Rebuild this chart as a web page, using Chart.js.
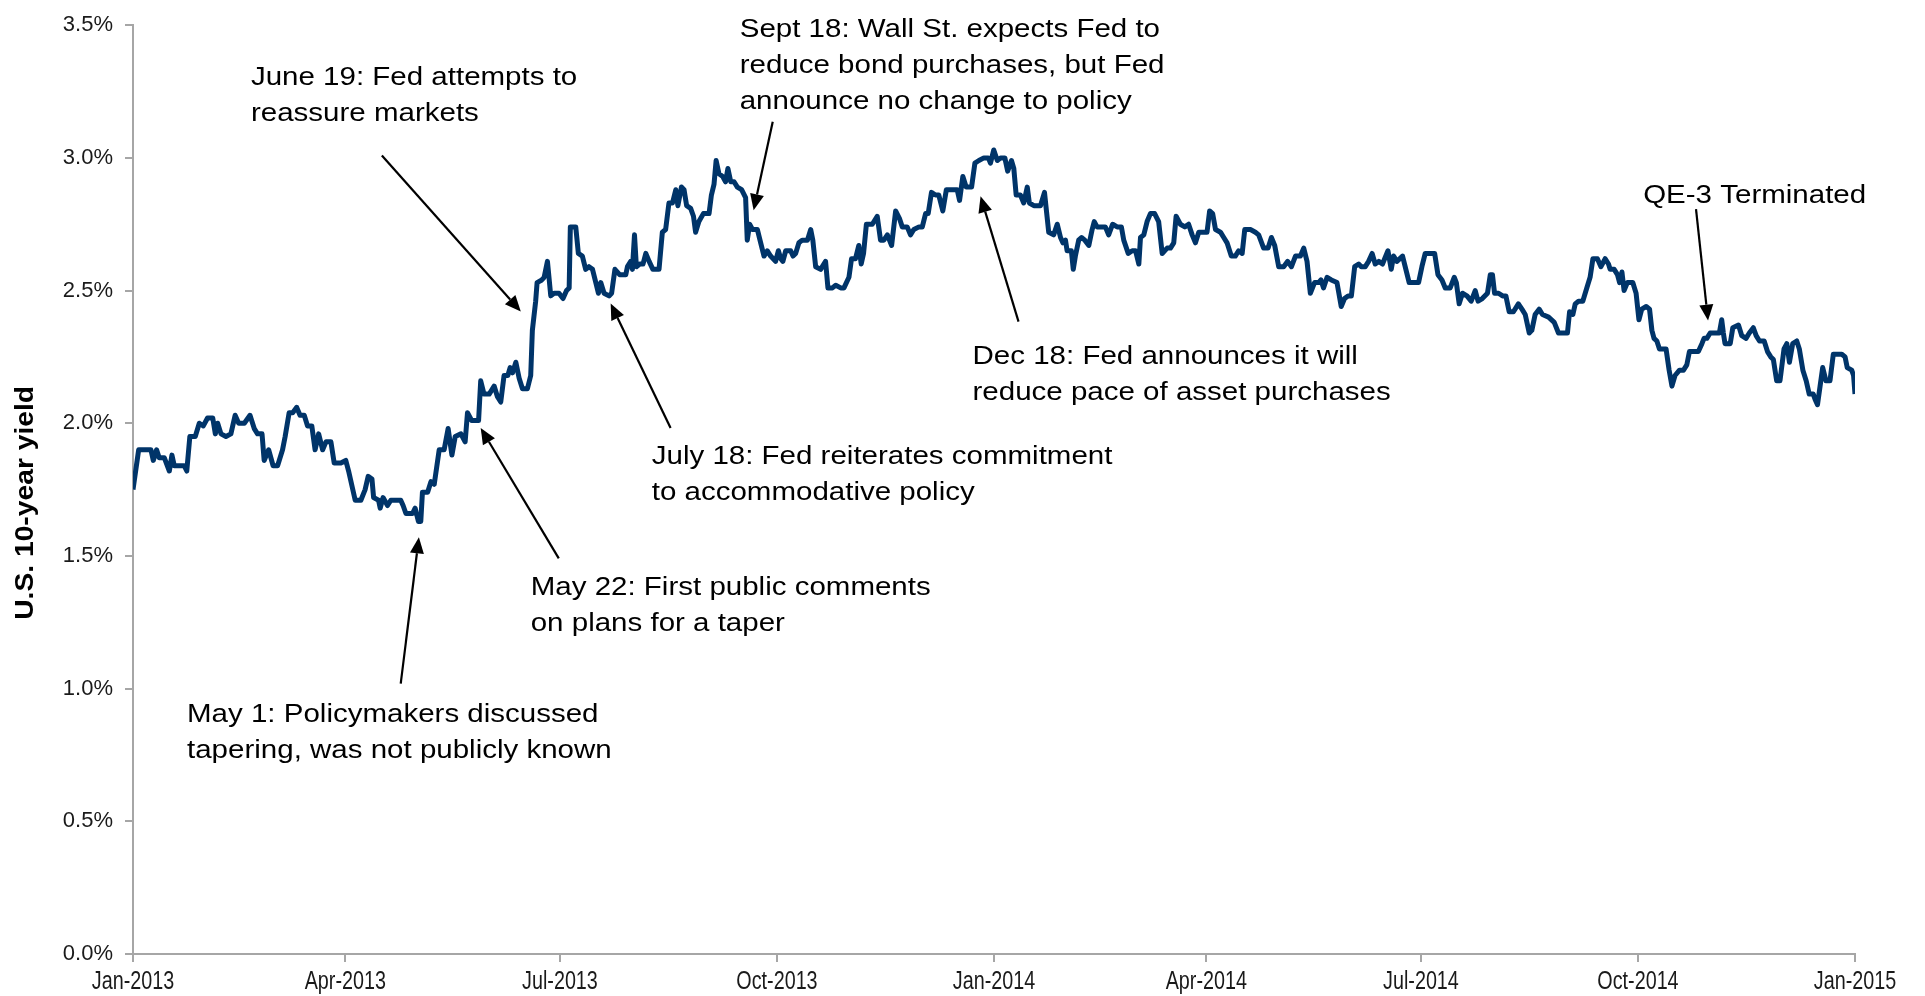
<!DOCTYPE html>
<html>
<head>
<meta charset="utf-8">
<title>U.S. 10-year yield, 2013-2014</title>
<script src="https://cdn.jsdelivr.net/npm/chart.js@4.4.1/dist/chart.umd.min.js"></script>
<style>
  html, body { margin: 0; padding: 0; background: #fff; }
  #wrap { width: 1925px; height: 996px; }
</style>
</head>
<body>
<div id="wrap"><canvas id="yieldChart" width="1925" height="996"></canvas></div>
<script>
// days counted from 1 Jan 2013
const days = [
  0, 2.4, 5.5, 7.6, 8.6, 10, 11.1, 13.3, 15.4, 16.5, 17.5, 19.6, 21.7, 22.8, 24.1, 26.4, 28.1, 29.8, 31.6, 33.8,
  34.9, 35.9, 37.3, 39.4, 41.5, 43.3, 44.8, 47.2, 49.6, 51.4, 52.8, 54.7, 55.6, 57.5, 59.4, 61.3, 63.4, 64.5, 66.2, 67.7,
  69.4, 70.8, 72.6, 74, 75.8, 77.2, 78.7, 80.4, 81.8, 83.9, 85.3, 88.1,
  90.2, 91.4, 94.2, 96.6, 98.4, 99.7, 101.3, 102, 104.1, 104.8, 106, 107.9, 109.3, 111.1, 113.5, 114.5, 115.7, 118.5, 119.6, 121,
  122, 122.7, 124.9, 126.3, 127.7, 129.8, 131.9, 133.6, 135.2, 136.6, 139, 140.8, 141.8, 143.6, 146.5, 147.4, 148.8, 151, 153.1, 154.5,
  155.9, 157.3, 158.9, 159.9, 160.9, 162.3, 163.7, 165.1, 167.2, 168.6, 169.3, 170.7, 171.3, 173.3, 174.3, 175.7, 177.1, 178.5, 180.6,
  182.3, 183.8, 184.9, 185.4, 187.7, 188.8, 190.5, 191.9, 193.3, 194.8, 196.2, 197.3, 198.3, 199.7, 201.8, 202.9, 204.3, 206.3, 208.9, 209.6,
  211, 211.7, 212.6, 213.4, 214.8, 216.2, 217.4, 218.8, 220.4, 223, 224.4, 225.8, 227.2, 228.7, 230.1, 231, 232.5, 233.6, 234.7, 236.4,
  237.6, 238.5, 239.9, 241.8, 244.2, 245.2, 246.3, 247.2, 248.4, 250, 251.2, 252.2, 253.4, 254.8, 256.2, 258, 259.7, 260.4, 261.4, 262.6,
  264.7, 265.8, 267.5, 268.9, 270.3, 272.4,
  273.6, 274.6, 275.5, 276.7, 278.8, 279.8, 280.9, 282.3, 283.7, 285.9, 287.3, 288.2, 289.4, 291.5, 293.6, 294.6, 296.5, 297.9, 300, 301.4,
  303.5, 304.6, 306.3, 307.7, 308.7, 309.7, 310.9, 313.4, 315.5, 316.9, 318.3, 319.8, 321.6, 323.3, 325, 326.1, 328.2, 329.6, 331, 333.2,
  334.6, 336, 337.1, 338.5, 340.2, 341.6, 343.3, 344.8, 347, 348.4, 349.4, 350.4, 351.8, 353.2, 355.5, 356.9, 358.6, 360.7, 362.6, 363.5,
  364.9, 366.4, 367.8, 369.6, 370.8, 372.4, 373.4, 374.4, 376.2, 377.6, 379.1, 380, 381.9, 384.7, 386.4, 388.2, 390.3, 391.8, 393.2, 394.2,
  395.3, 396, 397.8, 398.6, 399.5, 400.9, 402.1, 403.5, 405.2, 406.6, 407.5, 408.7, 410.6, 412.2, 413.6, 415.3, 417.2, 419, 420, 421.9,
  423.6, 425, 426.4, 427.1, 428.5, 429.9, 431.3, 433.1, 434.8, 436.3, 438.4, 439.8, 441.2, 442.2, 444, 445.9, 447.5, 449, 450.4, 451.8,
  453.9,
  455.3, 456.4, 457.7, 458.9, 461, 462.4, 463.8, 465.6, 467.3, 468.7, 470.2, 471.3, 473.7, 475.8, 477.2, 479.3, 481.2, 482.6, 484, 485.7,
  487.8, 489.5, 491.1, 492.8, 494.9, 496.3, 497.7, 499.1, 500.9, 502.6, 503.6, 504.7, 506.2, 508, 510.4, 512.2, 513.6, 515.1, 516.5, 517.9,
  519.6, 520.7, 522.4, 523.8, 525.3, 526.6, 528.1, 529.7, 532, 533.4, 534.4, 535.8, 538.2, 539.6, 541, 542.9, 545,
  546.4, 547.8, 549.9, 551.8, 553.2, 554.9, 556.3, 558.4, 560.1, 561, 562.2, 563.6, 565.5, 567.3, 569, 570.2, 572, 574.2, 575.4, 576.3,
  577.2, 578.9, 580.6, 582, 583.4, 585.2, 587.3, 588.8, 590.2, 591.9, 593, 594.4, 596.1, 597.5, 600.1, 602.5, 604.3, 606.4, 608.1, 609,
  610.4, 611.4, 612.8, 614.6, 616.3, 617.7, 618.9, 620.8, 622.3, 624.1, 625.5, 626.2, 627.9, 629.3, 630.2, 631.2, 632.1, 633.5, 635.8, 637.2,
  638.4, 639.6, 641.5, 642.9, 643.9, 644.8, 646, 647.1, 649.9, 651.2, 652.4, 653.7, 655.6, 657.3, 658.7, 659.8, 661.8, 663.6, 665.1, 666,
  667.2, 668.6, 670.7, 672.5, 673.5, 674.2, 674.9, 677.1, 678.2, 680.6, 682, 683.8, 685.2, 686.9, 688.1, 689.5, 691.5, 692.9, 694.3, 695.4,
  696.8, 698.2, 699.9, 701.1, 702.2, 703.6, 705.3, 706.4, 707.9, 709.3, 710.6, 712.3, 713.1, 714.1, 715.2, 716.3, 717.7, 719.4, 720.8, 722.9,
  724.4, 725.8, 726.7, 728.6, 729.4, 730
];

// yield in percent, same order as days
const yields = [
  1.75, 1.90, 1.90, 1.90, 1.86, 1.90, 1.87, 1.87, 1.82, 1.88, 1.84, 1.84, 1.84, 1.82, 1.95, 1.95, 2.00, 1.99, 2.02, 2.02,
  1.96, 2.00, 1.96, 1.95, 1.96, 2.03, 2.00, 2.00, 2.03, 1.98, 1.96, 1.96, 1.86, 1.90, 1.84, 1.84, 1.90, 1.95, 2.04, 2.04,
  2.06, 2.03, 2.03, 1.99, 1.99, 1.90, 1.96, 1.90, 1.93, 1.93, 1.85, 1.85,
  1.86, 1.82, 1.71, 1.71, 1.75, 1.80, 1.79, 1.72, 1.71, 1.68, 1.72, 1.69, 1.71, 1.71, 1.71, 1.69, 1.66, 1.66, 1.68, 1.63,
  1.63, 1.74, 1.74, 1.78, 1.77, 1.90, 1.90, 1.98, 1.88, 1.95, 1.96, 1.93, 2.04, 2.01, 2.01, 2.16, 2.11, 2.11, 2.14, 2.10,
  2.08, 2.18, 2.18, 2.21, 2.19, 2.23, 2.17, 2.13, 2.13, 2.18, 2.35, 2.46, 2.53, 2.54, 2.55, 2.61, 2.48, 2.49, 2.49,
  2.47, 2.50, 2.51, 2.74, 2.74, 2.64, 2.63, 2.58, 2.59, 2.58, 2.53, 2.49, 2.53, 2.49, 2.48, 2.49, 2.58, 2.56, 2.56, 2.59,
  2.61, 2.58, 2.71, 2.59, 2.60, 2.60, 2.64, 2.61, 2.58, 2.58, 2.72, 2.73, 2.83, 2.83, 2.88, 2.82, 2.89, 2.88, 2.82, 2.81,
  2.78, 2.72, 2.76, 2.79, 2.79, 2.86, 2.90, 2.99, 2.94, 2.93, 2.91, 2.96, 2.91, 2.91, 2.89, 2.88, 2.85, 2.69, 2.75, 2.73,
  2.73, 2.69, 2.63, 2.65, 2.63, 2.61,
  2.65, 2.62, 2.61, 2.65, 2.65, 2.63, 2.64, 2.68, 2.69, 2.69, 2.73, 2.69, 2.59, 2.58, 2.61, 2.51, 2.51, 2.52, 2.51, 2.51,
  2.55, 2.62, 2.62, 2.67, 2.60, 2.64, 2.75, 2.75, 2.78, 2.69, 2.69, 2.71, 2.67, 2.80, 2.77, 2.74, 2.74, 2.71, 2.73, 2.74,
  2.74, 2.79, 2.79, 2.87, 2.86, 2.86, 2.80, 2.88, 2.88, 2.88, 2.88, 2.84, 2.93, 2.89, 2.89, 2.98, 2.99, 3.00, 3.00, 2.98,
  3.03, 2.99, 3.00, 3.00, 2.95, 2.99, 2.96, 2.86, 2.86, 2.83, 2.89, 2.83, 2.82, 2.82, 2.87, 2.72, 2.71, 2.75, 2.70, 2.68,
  2.69, 2.65, 2.65, 2.58, 2.63, 2.69, 2.70, 2.69, 2.67, 2.73, 2.76, 2.74, 2.74, 2.74, 2.71, 2.75, 2.74, 2.74, 2.69, 2.64,
  2.65, 2.65, 2.60, 2.70, 2.71, 2.76, 2.79, 2.79, 2.76, 2.64, 2.66, 2.66, 2.68, 2.78, 2.75, 2.74, 2.75, 2.71, 2.68, 2.72,
  2.72,
  2.72, 2.80, 2.79, 2.73, 2.72, 2.70, 2.68, 2.63, 2.63, 2.65, 2.64, 2.73, 2.73, 2.72, 2.71, 2.66, 2.66, 2.70, 2.67, 2.59,
  2.59, 2.61, 2.59, 2.63, 2.63, 2.66, 2.61, 2.49, 2.53, 2.53, 2.54, 2.51, 2.55, 2.54, 2.53, 2.44, 2.47, 2.48, 2.48, 2.59,
  2.60, 2.59, 2.59, 2.61, 2.64, 2.60, 2.61, 2.60, 2.65, 2.58, 2.63, 2.61, 2.63, 2.58, 2.53, 2.53, 2.53,
  2.59, 2.64, 2.64, 2.64, 2.56, 2.54, 2.51, 2.51, 2.55, 2.53, 2.45, 2.49, 2.48, 2.46, 2.50, 2.46, 2.47, 2.49, 2.56, 2.56,
  2.49, 2.49, 2.48, 2.48, 2.42, 2.42, 2.45, 2.43, 2.41, 2.34, 2.35, 2.41, 2.43, 2.41, 2.40, 2.38, 2.34, 2.34, 2.34, 2.42,
  2.41, 2.45, 2.46, 2.46, 2.51, 2.55, 2.62, 2.62, 2.59, 2.62, 2.60, 2.58, 2.58, 2.56, 2.53, 2.57, 2.50, 2.53, 2.53, 2.49,
  2.39, 2.43, 2.44, 2.43, 2.35, 2.32, 2.31, 2.28, 2.28, 2.20, 2.14, 2.18, 2.20, 2.20, 2.22, 2.27, 2.27, 2.27, 2.30, 2.32,
  2.32, 2.34, 2.34, 2.34, 2.39, 2.34, 2.30, 2.30, 2.36, 2.37, 2.33, 2.32, 2.34, 2.36, 2.33, 2.31, 2.31, 2.27, 2.25, 2.24,
  2.16, 2.16, 2.28, 2.30, 2.23, 2.30, 2.31, 2.28, 2.20, 2.16, 2.11, 2.11, 2.09, 2.07, 2.14, 2.21, 2.16, 2.16, 2.26, 2.26,
  2.26, 2.25, 2.21, 2.20, 2.18, 2.11
];

const tickDays = [0, 90, 181, 273, 365, 455, 546, 638, 730];
const tickLabels = ['Jan-2013', 'Apr-2013', 'Jul-2013', 'Oct-2013', 'Jan-2014',
                    'Apr-2014', 'Jul-2014', 'Oct-2014', 'Jan-2015'];

// callouts: text anchored at [day, yield], arrow drawn from -> to in the same units
const notes = [
  { lines: ['Sept 18: Wall St. expects Fed to', 'reduce bond purchases, but Fed', 'announce no change to policy'],
    at: [257.2, 3.483], from: [271.2, 3.136], to: [263.1, 2.803] },
  { lines: ['June 19: Fed attempts to', 'reassure markets'],
    at: [50.0, 3.299], from: [105.5, 3.009], to: [164.4, 2.421] },
  { lines: ['July 18: Fed reiterates commitment', 'to accommodative policy'],
    at: [219.9, 1.874], from: [227.9, 1.982], to: [202.5, 2.451] },
  { lines: ['May 22: First public comments', 'on plans for a taper'],
    at: [168.6, 1.380], from: [180.5, 1.491], to: [147.4, 1.982] },
  { lines: ['May 1: Policymakers discussed', 'tapering, was not publicly known'],
    at: [22.9, 0.899], from: [113.5, 1.019], to: [121.2, 1.570] },
  { lines: ['Dec 18: Fed announces it will', 'reduce pace of asset purchases'],
    at: [355.9, 2.250], from: [375.4, 2.383], to: [359.3, 2.855] },
  { lines: ['QE-3 Terminated'],
    at: [640.2, 2.857], from: [662.6, 2.807], to: [667.7, 2.387] }
];

const FONT = '"Liberation Sans", Arial, Helvetica, sans-serif';
Chart.defaults.font.family = FONT;

function drawArrow(ctx, x1, y1, x2, y2) {
  const ang = Math.atan2(y2 - y1, x2 - x1);
  const head = 16, half = 7;
  const bx = x2 - head * Math.cos(ang), by = y2 - head * Math.sin(ang);
  ctx.lineWidth = 2.2;
  ctx.beginPath();
  ctx.moveTo(x1, y1);
  ctx.lineTo(bx, by);
  ctx.stroke();
  ctx.beginPath();
  ctx.moveTo(x2, y2);
  ctx.lineTo(bx + half * Math.sin(ang), by - half * Math.cos(ang));
  ctx.lineTo(bx - half * Math.sin(ang), by + half * Math.cos(ang));
  ctx.closePath();
  ctx.fill();
}

// text drawn with a horizontal squeeze/stretch factor
function drawScaledText(ctx, text, px, py, sx) {
  ctx.save();
  ctx.translate(px, py);
  ctx.scale(sx, 1);
  ctx.fillText(text, 0, 0);
  ctx.restore();
}

const notesPlugin = {
  id: 'notes',
  afterDatasetsDraw(chart) {
    const { ctx, chartArea, scales: { x, y } } = chart;
    ctx.save();
    ctx.fillStyle = '#000';
    ctx.strokeStyle = '#000';
    ctx.textBaseline = 'middle';
    ctx.textAlign = 'left';
    ctx.font = '25px ' + FONT;
    notes.forEach(n => {
      const tx = x.getPixelForValue(n.at[0]);
      const ty = y.getPixelForValue(n.at[1]);
      n.lines.forEach((line, i) => drawScaledText(ctx, line, tx, ty + i * 36, 1.18));
      drawArrow(ctx,
        x.getPixelForValue(n.from[0]), y.getPixelForValue(n.from[1]),
        x.getPixelForValue(n.to[0]), y.getPixelForValue(n.to[1]));
    });

    // condensed month labels under the x axis ticks
    ctx.fillStyle = '#1a1a1a';
    ctx.textAlign = 'center';
    ctx.font = '25px ' + FONT;
    tickDays.forEach((d, i) => drawScaledText(ctx, tickLabels[i], x.getPixelForValue(d), chartArea.bottom + 28, 0.79));

    // y axis title, running bottom to top
    ctx.fillStyle = '#000';
    ctx.translate(26, y.getPixelForValue(1.7));
    ctx.rotate(-Math.PI / 2);
    ctx.scale(1.13, 1);
    ctx.font = 'bold 25px ' + FONT;
    ctx.fillText('U.S. 10-year yield', 0, 0);
    ctx.restore();
  }
};

const axisGrey = '#a6a6a6';

new Chart(document.getElementById('yieldChart').getContext('2d'), {
  type: 'line',
  data: {
    datasets: [{
      label: 'U.S. 10-year yield',
      data: days.map((d, i) => ({ x: d, y: yields[i] })),
      borderColor: '#003469',
      borderWidth: 5,
      borderJoinStyle: 'round',
      pointRadius: 0,
      tension: 0
    }]
  },
  options: {
    responsive: false,
    animation: false,
    parsing: false,
    layout: { padding: { top: 20, right: 70, left: 0, bottom: 0 } },
    plugins: {
      legend: { display: false },
      tooltip: { enabled: false }
    },
    scales: {
      x: {
        type: 'linear',
        min: 0,
        max: 730,
        afterBuildTicks: scale => { scale.ticks = tickDays.map(v => ({ value: v })); },
        afterFit: scale => { scale.height = 42; },
        border: { display: true, color: axisGrey, width: 2 },
        grid: { display: true, drawOnChartArea: false, drawTicks: true, tickLength: 8, color: axisGrey, lineWidth: 2 },
        ticks: { display: false }
      },
      y: {
        min: 0,
        max: 3.5,
        afterFit: scale => { scale.width = 133; },
        border: { display: true, color: axisGrey, width: 2 },
        grid: { display: true, drawOnChartArea: false, drawTicks: true, tickLength: 8, color: axisGrey, lineWidth: 2 },
        ticks: {
          stepSize: 0.5,
          padding: 12,
          color: '#1a1a1a',
          font: { size: 22 },
          callback: value => value.toFixed(1) + '%'
        }
      }
    }
  },
  plugins: [notesPlugin]
});
</script>
</body>
</html>
